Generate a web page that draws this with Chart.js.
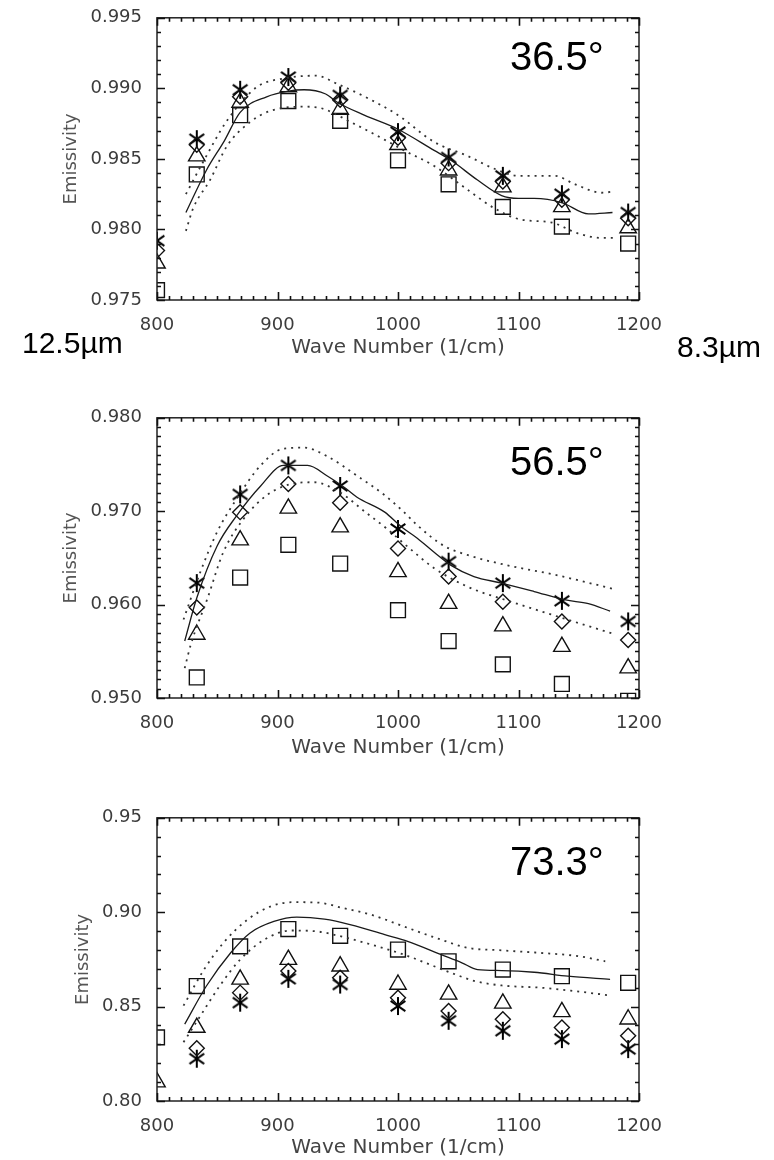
<!DOCTYPE html>
<html>
<head>
<meta charset="utf-8">
<script src="https://cdn.jsdelivr.net/npm/chart.js@4.4.0/dist/chart.umd.min.js"></script>
<style>
  body { margin: 0; background: #fff; }
  #wrap { position: relative; width: 774px; height: 1160px; }
  canvas { position: absolute; left: 0; }
</style>
</head>
<body>
<div id="wrap">
  <canvas id="panel36" width="774" height="372" style="top:0px"></canvas>
  <canvas id="panel56" width="774" height="372" style="top:400px"></canvas>
  <canvas id="panel73" width="774" height="360" style="top:800px"></canvas>
</div>
<script>
// wave numbers of the measured channels (1/cm)
const waveNumbers = [800, 833, 869, 909, 952, 1000, 1042, 1087, 1136, 1191];
const xTicks = [800, 900, 1000, 1100, 1200];

// 36.5 deg
const yTicks36 = [0.975, 0.980, 0.985, 0.990, 0.995];
const squares36 = [0.9757, 0.9839, 0.9881, 0.9891, 0.9877, 0.9849, 0.9832, 0.9816, 0.9802, 0.9790];
const triangles36 = [0.9776, 0.9852, 0.9890, 0.9901, 0.9885, 0.9860, 0.9842, 0.9830, 0.9816, 0.9801];
const diamonds36 = [0.9785, 0.9860, 0.9894, 0.9904, 0.9892, 0.9865, 0.9847, 0.9834, 0.9821, 0.9808];
const stars36 = [0.9792, 0.9864, 0.9899, 0.9908, 0.9895, 0.9869, 0.9851, 0.9838, 0.9825, 0.9812];
const solidX36 = [824, 841, 856, 869, 891, 909, 922, 940, 950, 972, 1000, 1030, 1044, 1066, 1086, 1100, 1113, 1136, 1158, 1178];
const solidY36 = [0.9812, 0.9842, 0.9863, 0.9883, 0.9894, 0.9898, 0.9899, 0.9896, 0.9890, 0.9881, 0.9871, 0.9856, 0.9849, 0.9835, 0.9824, 0.9822, 0.9822, 0.9819, 0.9811, 0.9812];
const upperX36 = [824, 839, 858, 883, 905, 932, 950, 975, 1000, 1030, 1058, 1080, 1100, 1130, 1147, 1169, 1180];
const upperY36 = [0.9825, 0.9849, 0.9877, 0.9901, 0.9907, 0.9909, 0.9903, 0.9893, 0.9881, 0.9862, 0.9852, 0.9843, 0.9838, 0.9838, 0.9832, 0.9826, 0.9827];
const lowerX36 = [824, 830, 844, 858, 877, 894, 922, 936, 961, 988, 1005, 1030, 1058, 1080, 1102, 1127, 1150, 1169, 1180];
const lowerY36 = [0.9799, 0.9815, 0.9835, 0.9859, 0.9876, 0.9884, 0.9887, 0.9886, 0.9876, 0.9864, 0.9856, 0.9845, 0.9828, 0.9815, 0.9807, 0.9805, 0.9797, 0.9794, 0.9794];

// 56.5 deg
const yTicks56 = [0.950, 0.960, 0.970, 0.980];
const squares56 = [null, 0.9522, 0.9629, 0.9664, 0.9644, 0.9594, 0.9561, 0.9536, 0.9515, 0.9497];
const triangles56 = [null, 0.9568, 0.9669, 0.9703, 0.9683, 0.9635, 0.9601, 0.9577, 0.9555, 0.9532];
const diamonds56 = [null, 0.9597, 0.9699, 0.9729, 0.9709, 0.9660, 0.9630, 0.9603, 0.9582, 0.9562];
const stars56 = [null, 0.9623, 0.9718, 0.9749, 0.9727, 0.9681, 0.9646, 0.9623, 0.9604, 0.9582];
const solidX56 = [823, 833, 850, 866, 886, 905, 925, 941, 955, 966, 989, 1003, 1016, 1030, 1044, 1063, 1086, 1113, 1139, 1158, 1176];
const solidY56 = [0.9561, 0.9607, 0.9663, 0.9695, 0.9727, 0.9749, 0.9749, 0.9738, 0.9726, 0.9715, 0.9699, 0.9683, 0.9671, 0.9656, 0.9642, 0.9630, 0.9623, 0.9614, 0.9605, 0.9601, 0.9593];
const upperX56 = [822, 836, 850, 866, 886, 905, 922, 941, 966, 989, 1005, 1016, 1038, 1058, 1091, 1130, 1178];
const upperY56 = [0.9584, 0.9635, 0.9678, 0.9713, 0.9749, 0.9767, 0.9768, 0.9759, 0.9738, 0.9717, 0.9699, 0.9685, 0.9663, 0.9653, 0.9642, 0.9632, 0.9617];
const lowerX56 = [823, 828, 842, 855, 872, 891, 911, 930, 952, 972, 990, 1008, 1030, 1058, 1094, 1133, 1178];
const lowerY56 = [0.9532, 0.9557, 0.9607, 0.9656, 0.9692, 0.9717, 0.9729, 0.9731, 0.9720, 0.9700, 0.9682, 0.9662, 0.9639, 0.9619, 0.9603, 0.9587, 0.9569];

// 73.3 deg
const yTicks73 = [0.80, 0.85, 0.90, 0.95];
const squares73 = [0.8337, 0.8609, 0.8819, 0.8911, 0.8875, 0.8802, 0.8740, 0.8696, 0.8661, 0.8626];
const triangles73 = [0.8100, 0.8389, 0.8644, 0.8749, 0.8714, 0.8617, 0.8565, 0.8517, 0.8472, 0.8433];
const diamonds73 = [null, 0.8280, 0.8574, 0.8688, 0.8653, 0.8547, 0.8477, 0.8433, 0.8389, 0.8345];
const stars73 = [null, 0.8224, 0.8521, 0.8647, 0.8617, 0.8503, 0.8425, 0.8372, 0.8328, 0.8275];
const solidX73 = [823, 841, 861, 877, 897, 916, 939, 961, 989, 1008, 1036, 1053, 1066, 1086, 1113, 1141, 1176];
const solidY73 = [0.8407, 0.8609, 0.8784, 0.8889, 0.8951, 0.8974, 0.8963, 0.8933, 0.8881, 0.8846, 0.8775, 0.8732, 0.8696, 0.8691, 0.8682, 0.8661, 0.8644];
const upperX73 = [822, 839, 855, 875, 894, 913, 933, 955, 978, 1005, 1036, 1058, 1086, 1119, 1150, 1172];
const upperY73 = [0.8505, 0.8696, 0.8837, 0.8960, 0.9030, 0.9053, 0.9051, 0.9021, 0.8986, 0.8924, 0.8854, 0.8811, 0.8798, 0.8784, 0.8767, 0.8740];
const lowerX73 = [822, 836, 852, 869, 889, 911, 933, 955, 978, 1005, 1044, 1064, 1086, 1119, 1147, 1176];
const lowerY73 = [0.8311, 0.8451, 0.8609, 0.8749, 0.8854, 0.8903, 0.8898, 0.8868, 0.8828, 0.8775, 0.8679, 0.8635, 0.8612, 0.8600, 0.8582, 0.8559];

const axisFont = "'DejaVu Sans', 'Liberation Sans', sans-serif";
const labelFont = "'Liberation Sans', Arial, sans-serif";

// asterisk symbol (vertical bar + two diagonals)
function makeAsterisk(size, lw) {
  var c = document.createElement("canvas");
  c.width = size;
  c.height = size;
  var g = c.getContext("2d");
  g.strokeStyle = "#000";
  g.lineWidth = lw;
  var r = size / 2 - 1;
  [90, 35, 145].forEach(function (deg) {
    var a = deg * Math.PI / 180;
    g.beginPath();
    g.moveTo(size / 2 - Math.cos(a) * r, size / 2 - Math.sin(a) * r);
    g.lineTo(size / 2 + Math.cos(a) * r, size / 2 + Math.sin(a) * r);
    g.stroke();
  });
  return c;
}
var asterisk = makeAsterisk(20, 2);

function markerSet(values, style, radius) {
  var pts = [];
  waveNumbers.forEach(function (x, i) {
    if (values[i] != null) pts.push({ x: x, y: values[i] });
  });
  return {
    data: pts,
    showLine: false,
    pointStyle: style,
    pointRadius: radius,
    pointHoverRadius: radius,
    pointBorderColor: "#111",
    pointBackgroundColor: "rgba(0,0,0,0)",
    pointBorderWidth: 1.4
  };
}

function lineSet(xs, ys, dotted) {
  return {
    data: xs.map(function (x, i) { return { x: x, y: ys[i] }; }),
    showLine: true,
    pointRadius: 0,
    borderColor: dotted ? "#333" : "#1a1a1a",
    borderWidth: dotted ? 1.8 : 1.3,
    borderDash: dotted ? [2, 5] : [],
    cubicInterpolationMode: "monotone",
    fill: false
  };
}

// tick stubs pointing into the plot, on all four sides
function tickStubs(ctx, a, scale, minor, majorEvery, horizontal) {
  var n = Math.round((scale.max - scale.min) / minor);
  for (var i = 0; i <= n; i++) {
    var pos = Math.round(scale.getPixelForValue(scale.min + i * minor)) + 0.5;
    var len = i % majorEvery === 0 ? 8 : 4;
    ctx.beginPath();
    if (horizontal) {
      ctx.moveTo(pos, a.bottom); ctx.lineTo(pos, a.bottom - len);
      ctx.moveTo(pos, a.top); ctx.lineTo(pos, a.top + len);
    } else {
      ctx.moveTo(a.left, pos); ctx.lineTo(a.left + len, pos);
      ctx.moveTo(a.right, pos); ctx.lineTo(a.right - len, pos);
    }
    ctx.stroke();
  }
}

// box, ticks and the panel's angle label
function framePlugin(p) {
  return {
    id: "frame",
    afterDraw: function (chart) {
      var ctx = chart.ctx;
      var a = chart.chartArea;
      ctx.save();
      ctx.setLineDash([]);
      ctx.strokeStyle = "#222";
      ctx.lineWidth = 1.5;
      ctx.strokeRect(a.left, a.top, a.right - a.left, a.bottom - a.top);

      ctx.strokeStyle = "#111";
      ctx.lineWidth = 1.6;
      tickStubs(ctx, a, chart.scales.x, p.xMinor, p.xMajorEvery, true);
      tickStubs(ctx, a, chart.scales.y, p.yMinor, p.yMajorEvery, false);

      ctx.fillStyle = "#000";
      ctx.textBaseline = "alphabetic";
      ctx.textAlign = "left";
      ctx.font = "40px " + labelFont;
      ctx.fillText(p.angle, 510, p.angleBase);
      if (p.extra) p.extra(ctx);
      ctx.restore();
    }
  };
}

function makePanel(canvasId, p) {
  var datasets = [
    lineSet(p.solidX, p.solidY, false),
    lineSet(p.upperX, p.upperY, true),
    lineSet(p.lowerX, p.lowerY, true),
    markerSet(p.squares, "rect", 10.5),
    markerSet(p.triangles, "triangle", 9.5),
    markerSet(p.diamonds, "rectRot", 7.5),
    markerSet(p.stars, asterisk, 9)
  ];
  var ctx = document.getElementById(canvasId).getContext("2d");
  return new Chart(ctx, {
    type: "scatter",
    data: { datasets: datasets },
    options: {
      responsive: false,
      animation: false,
      layout: { padding: { top: p.top, right: 135, left: 0, bottom: 0 } },
      plugins: { legend: { display: false }, tooltip: { enabled: false } },
      scales: {
        x: {
          type: "linear",
          min: 800,
          max: 1200,
          grid: { display: false },
          border: { display: false },
          afterBuildTicks: function (s) { s.ticks = xTicks.map(function (v) { return { value: v }; }); },
          ticks: {
            font: { family: axisFont, size: 18 }, color: "#3c3c3c", padding: 7, maxRotation: 0, autoSkip: false,
            callback: function (v) { return String(v); }
          },
          title: { display: true, text: "Wave Number (1/cm)", font: { family: axisFont, size: 20 }, color: "#444", padding: { top: 0, bottom: p.xTitlePad } },
          afterFit: function (s) { s.height = p.xAxisHeight; }
        },
        y: {
          type: "linear",
          min: p.yTicks[0],
          max: p.yTicks[p.yTicks.length - 1],
          grid: { display: false },
          border: { display: false },
          afterBuildTicks: function (s) { s.ticks = p.yTicks.map(function (v) { return { value: v }; }); },
          ticks: {
            font: { family: axisFont, size: 18 }, color: "#3c3c3c", padding: 7, autoSkip: false,
            callback: function (v) { return Number(v).toFixed(p.decimals); }
          },
          title: { display: true, text: "Emissivity", font: { family: axisFont, size: 18 }, color: "#555", padding: { top: p.yTitlePad, bottom: 0 } },
          afterFit: function (s) { s.width = 157; }
        }
      }
    },
    plugins: [framePlugin(p)]
  });
}

makePanel("panel36", {
  top: 12, xAxisHeight: 72, xTitlePad: 12, yTitlePad: 61,
  yTicks: yTicks36, decimals: 3, xMinor: 10, xMajorEvery: 10, yMinor: 0.001, yMajorEvery: 5,
  squares: squares36, triangles: triangles36, diamonds: diamonds36, stars: stars36,
  solidX: solidX36, solidY: solidY36, upperX: upperX36, upperY: upperY36, lowerX: lowerX36, lowerY: lowerY36,
  angle: "36.5°", angleBase: 70,
  extra: function (ctx) {
    ctx.font = "30px " + labelFont;
    ctx.fillText("12.5\u00b5m", 22, 353);
    ctx.fillText("8.3\u00b5m", 677, 357);
  }
});

makePanel("panel56", {
  top: 15, xAxisHeight: 74, xTitlePad: 12, yTitlePad: 61,
  yTicks: yTicks56, decimals: 3, xMinor: 10, xMajorEvery: 10, yMinor: 0.001, yMajorEvery: 10,
  squares: squares56, triangles: triangles56, diamonds: diamonds56, stars: stars56,
  solidX: solidX56, solidY: solidY56, upperX: upperX56, upperY: upperY56, lowerX: lowerX56, lowerY: lowerY56,
  angle: "56.5°", angleBase: 75
});

makePanel("panel73", {
  top: 14, xAxisHeight: 59, xTitlePad: 0, yTitlePad: 73,
  yTicks: yTicks73, decimals: 2, xMinor: 10, xMajorEvery: 10, yMinor: 0.01, yMajorEvery: 5,
  squares: squares73, triangles: triangles73, diamonds: diamonds73, stars: stars73,
  solidX: solidX73, solidY: solidY73, upperX: upperX73, upperY: upperY73, lowerX: lowerX73, lowerY: lowerY73,
  angle: "73.3°", angleBase: 75
});
</script>
</body>
</html>
